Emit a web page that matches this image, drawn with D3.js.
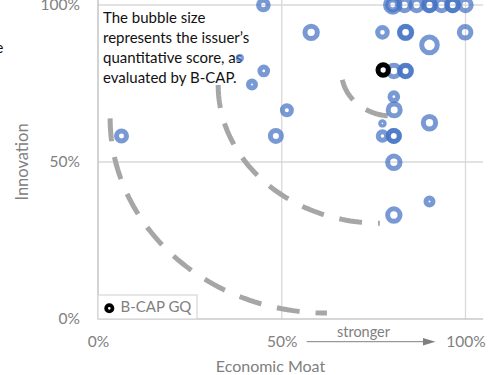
<!DOCTYPE html>
<html>
<head>
<meta charset="utf-8">
<script src="https://cdn.jsdelivr.net/npm/d3@7"></script>
<style>
  html, body { margin: 0; padding: 0; background: #fff; }
  svg { display: block; font-family: Lato, "Open Sans", sans-serif; }
</style>
</head>
<body>
<svg id="chart" width="496" height="375"></svg>
<script>
// Issuers: economic moat (x, %), innovation (y, %), quantitative score (bubble size)
const moat = [45.0, 58.0, 77.4, 83.7, 83.7, 90.2, 99.9,
  80.2, 80.2, 83.4, 86.7, 90.2, 90.2, 93.5, 96.5, 96.5, 100,
  45.1, 41.9, 38.6, 51.4, 80.5, 83.7, 83.7, 80.5, 80.6, 77.4, 90.2,
  48.4, 77.4, 80.5, 80.5, 80.5, 90.2, 80.5, 6.4];
const innovation = [100, 91.3, 91.3, 91.3, 91.3, 87.3, 91.3,
  100, 100, 100, 100, 100, 100, 100, 100, 100, 100,
  79, 74.7, 83.1, 66.5, 79, 79, 79, 70.8, 66.6, 62.3, 62.5,
  58.3, 58.3, 58.3, 58.3, 49.9, 37.4, 33.1, 58.3];
const score = [38, 63, 38, 63, 55, 100, 55,
  85, 41, 53, 53, 53, 53, 53, 53, 53, 53,
  24, 20, 4, 33, 55, 55, 50, 24, 59, 5, 63,
  50, 29, 50, 50, 63, 20, 63, 41];

// B-CAP GQ issuer
const gqMoat = [77.6];
const gqInnovation = [79.3];
const gqScore = [44];

// Guide arcs (quarter ellipses in data units: centre, radii, start/end angle in degrees)
const arcCx = [62.3, 76.7, 80.3];
const arcCy = [63.9, 74.5, 78.6];
const arcRx = [59, 44, 14];
const arcRy = [62, 44, 14];
const arcFrom = [180, 180, 190];
const arcTo = [270, 270, 270];

const tickValues = [0, 50, 100];

const svg = d3.select("#chart");
const x = d3.scaleLinear().domain([0, 100]).range([98, 465.5]);
const y = d3.scaleLinear().domain([0, 100]).range([319, 5]);
const r = d3.scaleSqrt().domain([0, 100]).range([0, 7.8]);
const xMax = x.invert(483), yMax = y.invert(-12);

const grey = "#808080";

// gridlines
svg.append("g").selectAll("line.h").data([50, 100]).join("line")
  .attr("x1", x(0)).attr("x2", x(xMax)).attr("y1", d => y(d)).attr("y2", d => y(d))
  .attr("stroke", "#d9d9d9").attr("stroke-width", 1.3);
svg.append("g").selectAll("line.v").data([50, 100]).join("line")
  .attr("y1", y(yMax)).attr("y2", y(0)).attr("x1", d => x(d)).attr("x2", d => x(d))
  .attr("stroke", "#d9d9d9").attr("stroke-width", 1.3);

// axis lines
svg.append("line").attr("x1", x(0)).attr("x2", x(0)).attr("y1", y(yMax)).attr("y2", y(0))
  .attr("stroke", "#c8c8c8").attr("stroke-width", 1.6);
svg.append("line").attr("x1", x(0)).attr("x2", x(xMax)).attr("y1", y(0)).attr("y2", y(0))
  .attr("stroke", "#c8c8c8").attr("stroke-width", 1.6);

// tick labels
const fmt = d => d + "%";
const xAxis = svg.append("g").attr("transform", `translate(0,${y(0)})`)
  .call(d3.axisBottom(x).tickValues(tickValues).tickFormat(fmt).tickSize(0).tickPadding(17));
const yAxis = svg.append("g").attr("transform", `translate(${x(0)},0)`)
  .call(d3.axisLeft(y).tickValues(tickValues).tickFormat(fmt).tickSize(0).tickPadding(18));
[xAxis, yAxis].forEach(g => {
  g.select(".domain").remove();
  g.selectAll("text").attr("fill", grey).style("font-size", "15.5px")
    .style("font-family", "Lato, sans-serif");
});

// guide arcs
const arcLine = d3.line().x(p => x(p[0])).y(p => y(p[1]));
arcCx.forEach((cx, i) => {
  const pts = d3.range(0, 61).map(k => {
    const a = (arcFrom[i] + (arcTo[i] - arcFrom[i]) * k / 60) * Math.PI / 180;
    return [cx + arcRx[i] * Math.cos(a), arcCy[i] + arcRy[i] * Math.sin(a)];
  });
  svg.append("path").attr("d", arcLine(pts)).attr("fill", "none")
    .attr("stroke", "#a6a6a6").attr("stroke-width", 5).attr("stroke-dasharray", "23,16");
});

// note
const note = ["The bubble size", "represents the issuer\u2019s", "quantitative score, as", "evaluated by B-CAP."];
svg.append("g").selectAll("text").data(note).join("text")
  .attr("x", 103).attr("y", (d, i) => 22.5 + i * 20.2)
  .attr("fill", "#111").style("font-size", "15px").text(d => d);

// issuer bubbles
const issuers = moat.map((m, i) => ({ m, v: innovation[i], s: score[i] }));
svg.append("g").selectAll("circle").data(issuers).join("circle")
  .attr("cx", d => x(d.m)).attr("cy", d => y(d.v)).attr("r", d => r(d.s))
  .attr("fill", "none").attr("stroke", "#4472c4").attr("stroke-opacity", 0.72)
  .attr("stroke-width", 5);

// B-CAP GQ bubble
svg.append("g").selectAll("circle").data(gqMoat.map((m, i) => ({ m, v: gqInnovation[i], s: gqScore[i] })))
  .join("circle")
  .attr("cx", d => x(d.m)).attr("cy", d => y(d.v)).attr("r", d => r(d.s))
  .attr("fill", "none").attr("stroke", "#000").attr("stroke-width", 5);

// legend
svg.append("rect").attr("x", 98).attr("y", 295).attr("width", 99).attr("height", 24)
  .attr("fill", "#fff").attr("stroke", "#d9d9d9").attr("stroke-width", 1.3);
svg.append("circle").attr("cx", 109.3).attr("cy", 308.3).attr("r", 3.2)
  .attr("fill", "none").attr("stroke", "#000").attr("stroke-width", 3.7);
svg.append("text").attr("x", 120.5).attr("y", 312).attr("fill", grey)
  .style("font-size", "15px").text("B-CAP GQ");

// axis titles
svg.append("text").attr("transform", "translate(28,162) rotate(-90)")
  .attr("text-anchor", "middle").attr("fill", grey).style("font-size", "16.5px").text("Innovation");
svg.append("text").attr("x", 270.5).attr("y", 371.5).attr("text-anchor", "middle")
  .attr("fill", grey).style("font-size", "16px").text("Economic Moat");

// direction arrow
svg.append("text").attr("x", 363.5).attr("y", 336.5).attr("text-anchor", "middle")
  .attr("fill", grey).style("font-size", "14.5px").text("stronger");
svg.append("line").attr("x1", 306.7).attr("x2", 424).attr("y1", 341.7).attr("y2", 341.7)
  .attr("stroke", grey).attr("stroke-width", 1);
svg.append("path").attr("d", "M423,338 L435.5,341.7 L423,345.4 Z").attr("fill", grey);

// clipped label at the left edge
svg.append("text").attr("x", -5).attr("y", 53).attr("fill", "#111")
  .style("font-size", "16px").text("e");
</script>
</body>
</html>
